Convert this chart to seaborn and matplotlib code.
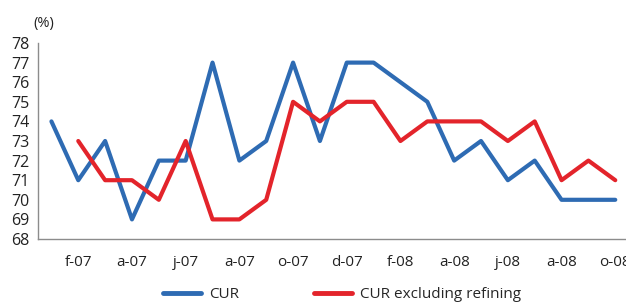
import numpy as np
import pandas as pd
import seaborn as sns
import matplotlib.pyplot as plt
from matplotlib.ticker import FixedLocator

months = ['j-07', 'f-07', 'm-07', 'a-07', 'm-07', 'j-07', 'j-07', 'a-07', 's-07', 'o-07', 'n-07',
          'd-07', 'j-08', 'f-08', 'm-08', 'a-08', 'm-08', 'j-08', 'j-08', 'a-08', 's-08', 'o-08']
cur = [74, 71, 73, 69, 72, 72, 77, 72, 73, 77, 73, 77, 77, 76, 75, 72, 73, 71, 72, 70, 70, 70]
cur_ex = [np.nan, 73, 71, 71, 70, 73, 69, 69, 70, 75, 74, 75, 75, 73, 74, 74, 74, 73, 74, 71, 72, 71]

df = pd.DataFrame({'idx': range(len(months)), 'CUR': cur, 'CUR excluding refining': cur_ex})
long = df.melt(id_vars='idx', var_name='series', value_name='value').dropna()

sns.set_style('white')
plt.rcParams['font.family'] = ['Open Sans', 'DejaVu Sans']

fig = plt.figure(figsize=(6.26, 3.06), dpi=100)
ax = fig.add_axes([38 / 626, 1 - 239 / 306, 1 - 38 / 626, 196 / 306])

sns.lineplot(data=long, x='idx', y='value', hue='series',
             palette={'CUR': '#2e6bb3', 'CUR excluding refining': '#e3242b'},
             linewidth=3, ax=ax, legend=False)

ax.set_ylim(68, 78)
ax.set_yticks(range(68, 79))
ax.set_xlim(-0.5, 21.4)
ax.xaxis.set_major_locator(FixedLocator(list(range(1, 22, 2))))
ax.set_xticklabels([months[i] for i in range(1, 22, 2)])
ax.xaxis.set_minor_locator(FixedLocator([i for i in np.arange(-0.5, 21.6, 0.5) if i not in range(1, 22, 2)]))
ax.tick_params(axis='x', which='both', direction='inout', length=7, width=1, color='#8c8c8c',
               labelsize=11, pad=8, labelcolor='#222222')
ax.tick_params(axis='y', direction='out', length=4, width=1, color='#8c8c8c',
               labelsize=11.5, pad=2, labelcolor='#222222')
for s in ['top', 'right']:
    ax.spines[s].set_visible(False)
for s in ['left', 'bottom']:
    ax.spines[s].set_color('#8c8c8c')
    ax.spines[s].set_linewidth(1)
ax.set_xlabel('')
ax.set_ylabel('')

fig.text(33 / 626, 1 - 23 / 306, '(%)', fontsize=10.5, color='#222222', va='center')

# legend below the chart
fig.legend(handles=[plt.Line2D([], [], color='#2e6bb3', lw=3.5),
                    plt.Line2D([], [], color='#e3242b', lw=3.5)],
           labels=['CUR', 'CUR excluding refining'], ncol=2, frameon=False,
           loc='center', bbox_to_anchor=(342 / 626, 1 - 295 / 306), fontsize=11,
           handlelength=2.5, handletextpad=0.5, columnspacing=4.9, borderaxespad=0)

fig.savefig('out.png', dpi=100)
